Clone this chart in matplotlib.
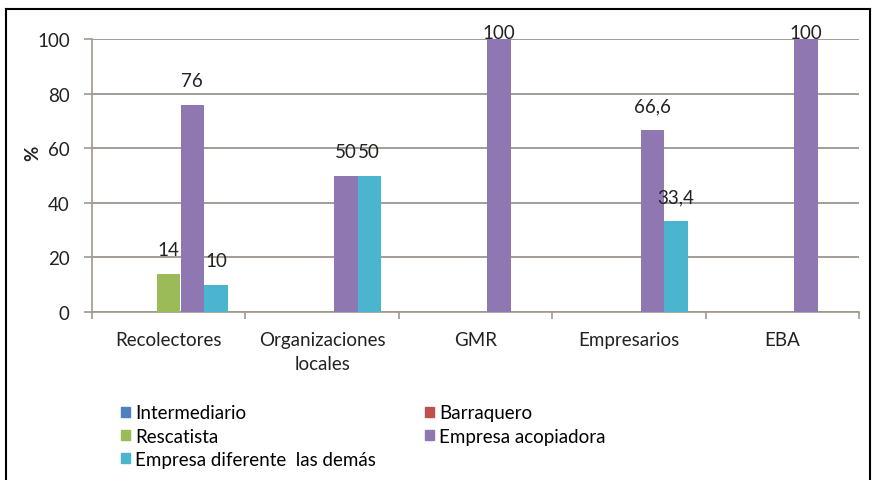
import matplotlib
matplotlib.use("Agg")
import matplotlib.pyplot as plt
from matplotlib.lines import Line2D
from matplotlib.patches import Patch
import numpy as np

categories = ["Recolectores", "Organizaciones\nlocales", "GMR", "Empresarios", "EBA"]
series_names = ["Intermediario", "Barraquero", "Rescatista",
                "Empresa acopiadora", "Empresa diferente  las demás"]
intermediario = [0, 0, 0, 0, 0]
barraquero = [0, 0, 0, 0, 0]
rescatista = [14, 0, 0, 0, 0]
acopiadora = [76, 50, 100, 66.6, 100]
diferente = [10, 50, 0, 33.4, 0]
series = [intermediario, barraquero, rescatista, acopiadora, diferente]
colors = ["#4F81BD", "#C0504D", "#9BBB59", "#8F78B1", "#4BB5CF"]

plt.rcParams['font.family'] = ['Lato', 'DejaVu Sans']
fs = 13.5

W, H = 873, 481
fig = plt.figure(figsize=(W / 100, H / 100), dpi=100)
ax = fig.add_axes([92 / W, 1 - 313 / H, (859 - 92) / W, (313 - 40) / H])

x = np.arange(len(categories))
bw = 1 / 6.5
for i, (vals, c) in enumerate(zip(series, colors)):
    pos = x + (i - 2) * bw
    ax.bar(pos, vals, width=bw, color=c, zorder=3)
    for p, v in zip(pos, vals):
        if v == 0:
            continue
        lab = f"{v:g}".replace(".", ",")
        ax.text(p, min(v + 8.8, 102.4), lab, ha="center", va="center",
                fontsize=fs, color="#222222", zorder=4, clip_on=False)

ax.set_xlim(-0.5, len(categories) - 0.5)
ax.set_ylim(0, 100)
ax.set_yticks(range(0, 101, 20))
ax.set_xticks(x)
ax.set_xticklabels(categories, fontsize=fs, color="#222222", linespacing=1.45)
ax.set_xticks(np.arange(len(categories) + 1) - 0.5, minor=True)
ax.tick_params(axis="x", which="major", length=0, pad=14)
ax.tick_params(axis="x", which="minor", length=5, color="#A09890", width=1.2)
ax.tick_params(axis="y", length=6, color="#A09890", width=1.2, pad=10,
               labelsize=fs, labelcolor="#222222")
ax.grid(axis="y", color="#A49C96", linewidth=1.4, zorder=0)
for s in ["top", "right"]:
    ax.spines[s].set_visible(False)
for s in ["left", "bottom"]:
    ax.spines[s].set_color("#A09890")
    ax.spines[s].set_linewidth(1.2)
ax.set_ylabel("%", fontsize=fs, fontweight="bold", color="#222222")
ax.yaxis.set_label_coords(-0.066, 0.585)

# legend: two columns placed separately
left_idx = [0, 2, 4]
right_idx = [1, 3]
for idxs, xpos in [(left_idx, 112 / W), (right_idx, 416 / W)]:
    handles = [Patch(color=colors[i]) for i in idxs]
    labels = [series_names[i] for i in idxs]
    fig.legend(handles, labels, loc="upper left",
               bbox_to_anchor=(xpos, 1 - 396 / H), frameon=False,
               fontsize=fs, handlelength=0.45, handleheight=0.45,
               handletextpad=0.3, labelspacing=0.34, borderpad=0)

# border of the original figure box
tr = fig.transFigure
bx0, bx1, by = 6 / W, 870 / W, 1 - 10 / H
fig.add_artist(Line2D([bx0, bx1], [by, by], transform=tr, color="black", lw=1.5))
fig.add_artist(Line2D([bx0, bx0], [by, 0], transform=tr, color="black", lw=1.5))
fig.add_artist(Line2D([bx1, bx1], [by, 0], transform=tr, color="black", lw=1.5))

fig.savefig("out.png", dpi=100)
